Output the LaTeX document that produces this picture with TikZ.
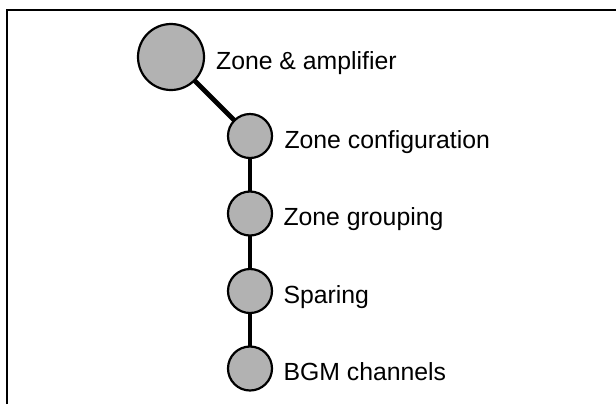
\documentclass[tikz,border=0pt]{standalone}
\usepackage{fontspec}
\setmainfont{Liberation Sans}
\usepackage{tikz}
\usetikzlibrary{positioning, backgrounds}

\begin{document}
\begin{tikzpicture}[node distance=38.75pt, on grid,
    menu/.style={draw, circle, line width=1.1pt, fill=gray!60, inner sep=0pt},
    lbl/.style={anchor=base west, inner sep=0pt, font=\fontsize{12.4pt}{14pt}\selectfont},
    link/.style={line width=2.4pt}]
    \useasboundingbox (0,0) rectangle (308pt,-202pt);

    % Page frame (top and left edge only)
    \draw[line width=1.1pt] (3.35pt,-202pt) |- (308pt,-5pt);

    % Top level node
    \node[menu, minimum size=33pt] (zone) at (85.5pt,-28.5pt) {};

    % Sub menu nodes
    \node[menu, minimum size=22pt, below right=39.5pt and 39.5pt of zone] (config) {};
    \node[menu, minimum size=22pt, below=of config] (grouping) {};
    \node[menu, minimum size=22pt, below=of grouping] (sparing) {};
    \node[menu, minimum size=22pt, below=of sparing] (bgm) {};

    % Links behind the nodes
    \begin{scope}[on background layer]
        \draw[link] (zone.center) -- (config.center);
        \draw[link] (config.center) -- (grouping.center);
        \draw[link] (grouping.center) -- (sparing.center);
        \draw[link] (sparing.center) -- (bgm.center);
    \end{scope}

    % Labels
    \node[lbl] (zonelbl) at ([xshift=5.3pt,yshift=-6pt]zone.east) {Zone \& amplifier};
    \node[lbl] (configlbl) at ([xshift=5.5pt,yshift=-6pt]config.east) {Zone configuration};
    \node[lbl] (groupinglbl) at ([xshift=5pt,yshift=-6pt]grouping.east) {Zone grouping};
    \node[lbl] (sparinglbl) at ([xshift=5pt,yshift=-6pt]sparing.east) {Sparing};
    \node[lbl] (bgmlbl) at ([xshift=5pt,yshift=-6pt]bgm.east) {BGM channels};
\end{tikzpicture}
\end{document}
